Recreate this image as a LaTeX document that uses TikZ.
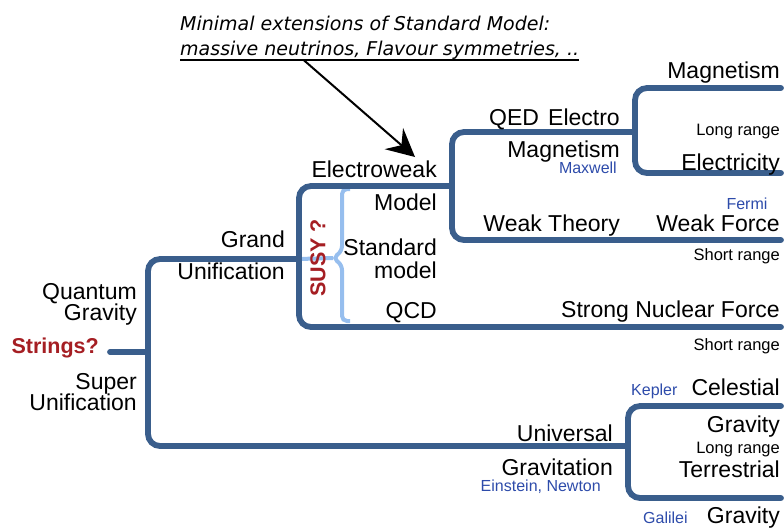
\documentclass[tikz,border=0pt]{standalone}
\usepackage{fontspec}
\setmainfont{Liberation Sans}
\newfontfamily\notefont{DejaVu Sans}
\usepackage{xcolor}
\usepackage{tikz}
\usetikzlibrary{arrows.meta, calc}

\definecolor{branchblue}{RGB}{58,94,140}
\definecolor{susyblue}{RGB}{150,190,238}
\definecolor{hotred}{RGB}{165,30,35}
\definecolor{whoblue}{RGB}{45,75,170}

\begin{document}
\begin{tikzpicture}[x=1pt, y=-1pt,
    branch/.style={draw=branchblue, line width=5.8pt, rounded corners=12pt, line cap=round},
    susy/.style={draw=susyblue, line width=4pt, rounded corners=5pt},
    lbl/.style={anchor=base east, inner sep=0pt, font=\fontsize{23}{25}\selectfont},
    rangetxt/.style={lbl, font=\fontsize{16.5}{18}\selectfont},
    who/.style={lbl, text=whoblue, font=\fontsize{16}{18}\selectfont},
    hot/.style={inner sep=0pt, text=hotred, font=\fontsize{21.5}{24}\selectfont\bfseries},
    note/.style={inner sep=0pt, align=left, font=\notefont\itshape\fontsize{19}{25}\selectfont},
    pointer/.style={-{Stealth[length=28pt,width=28pt,inset=10pt]}, line width=2pt}
]
\useasboundingbox (0,0) rectangle (784,528);

% Junctions and branch ends
\coordinate (root) at (110,352);
\coordinate (qg) at (148,352);
\coordinate (gut) at (299,259);
\coordinate (ew) at (452,186);
\coordinate (qed) at (635,132);
\coordinate (ug) at (628,446);
\coordinate (cusp) at (333,258);
\coordinate (magE) at (781,88);
\coordinate (elecE) at (781,173);
\coordinate (weakE) at (781,240);
\coordinate (strongE) at (781,327);
\coordinate (celE) at (781,406);
\coordinate (terE) at (781,498);

% SUSY brace
\draw[susy] (gut) -- (cusp);
\draw[susy] (350,189) -- (342,189) -- (342,251) -- (cusp) -- (342,265) -- (342,321) -- (350,321);

% Branches
\draw[branch] (root) -- (qg);
\draw[branch] (gut) -| (qg) |- (ug);
\draw[branch] (ew) -| (gut) |- (strongE);
\draw[branch] (qed) -| (ew) |- (weakE);
\draw[branch] (magE) -| (qed) |- (elecE);
\draw[branch] (celE) -| (ug) |- (terE);

% Left part
\node[hot, anchor=base east] (strings) at (99,353) {Strings?};
\node[lbl] (quantum) at (137,299) {Quantum};
\node[lbl] (qgrav) at (137,320) {Gravity};
\node[lbl] (super) at (137,389) {Super};
\node[lbl] (superuni) at (137,410) {Unification};
\node[lbl] (grand) at (285,247) {Grand};
\node[lbl] (granduni) at (285,279) {Unification};

% Standard model
\node[lbl] (ewk) at (437,177) {Electroweak};
\node[lbl] (model) at (437,210) {Model};
\node[lbl] (standard) at (437,255) {Standard};
\node[lbl] (smodel) at (437,278) {model};
\node[lbl] (qcd) at (437,318) {QCD};
\node[hot, rotate=90] (susytext) at (318,258) {SUSY ?};

\node[lbl] (qedtext) at (620,125) {QED\hspace{0.4em}Electro};
\node[lbl] (emag) at (620,157) {Magnetism};
\node[who] (maxwell) at (617,173) {Maxwell};
\node[lbl] (weakth) at (620,231) {Weak Theory};

% Forces
\node[lbl] (magn) at (780,78) {Magnetism};
\node[rangetxt] (longr1) at (780,135) {Long range};
\node[lbl] (elec) at (780,170) {Electricity};
\node[who, anchor=base] (fermi) at (747,209) {Fermi};
\node[lbl] (weakf) at (780,231) {Weak Force};
\node[rangetxt] (shortr1) at (780,260) {Short range};
\node[lbl] (strong) at (780,317) {Strong Nuclear Force};
\node[rangetxt] (shortr2) at (780,350) {Short range};

% Gravitation
\node[lbl] (univ) at (613,441) {Universal};
\node[lbl] (gravit) at (613,475) {Gravitation};
\node[who] (einstein) at (601,491) {Einstein, Newton};
\node[lbl] (celest) at (780,395) {Celestial};
\node[who, anchor=base west] (kepler) at (631,395) {Kepler};
\node[lbl] (cgrav) at (780,432) {Gravity};
\node[rangetxt] (longr2) at (780,453) {Long range};
\node[lbl] (terr) at (780,477) {Terrestrial};
\node[lbl] (tgrav) at (780,523) {Gravity};
\node[who, anchor=base west] (galilei) at (643,523) {Galilei};

% Annotation
\node[note, anchor=base west] (remark) at (180,55) {Minimal extensions of Standard Model:\\massive neutrinos, Flavour symmetries, ..};
\coordinate (ulA) at ($(remark.south west)+(0,1)$);
\coordinate (ulB) at ($(remark.south east)+(0,1)$);
\draw[line width=1.6pt] (ulA) -- (ulB);
\coordinate (tail) at ($(ulA)!0.31!(ulB)$);
\coordinate (tip) at (415,157);
\draw[pointer] (tail) -- (tip);

\end{tikzpicture}
\end{document}
